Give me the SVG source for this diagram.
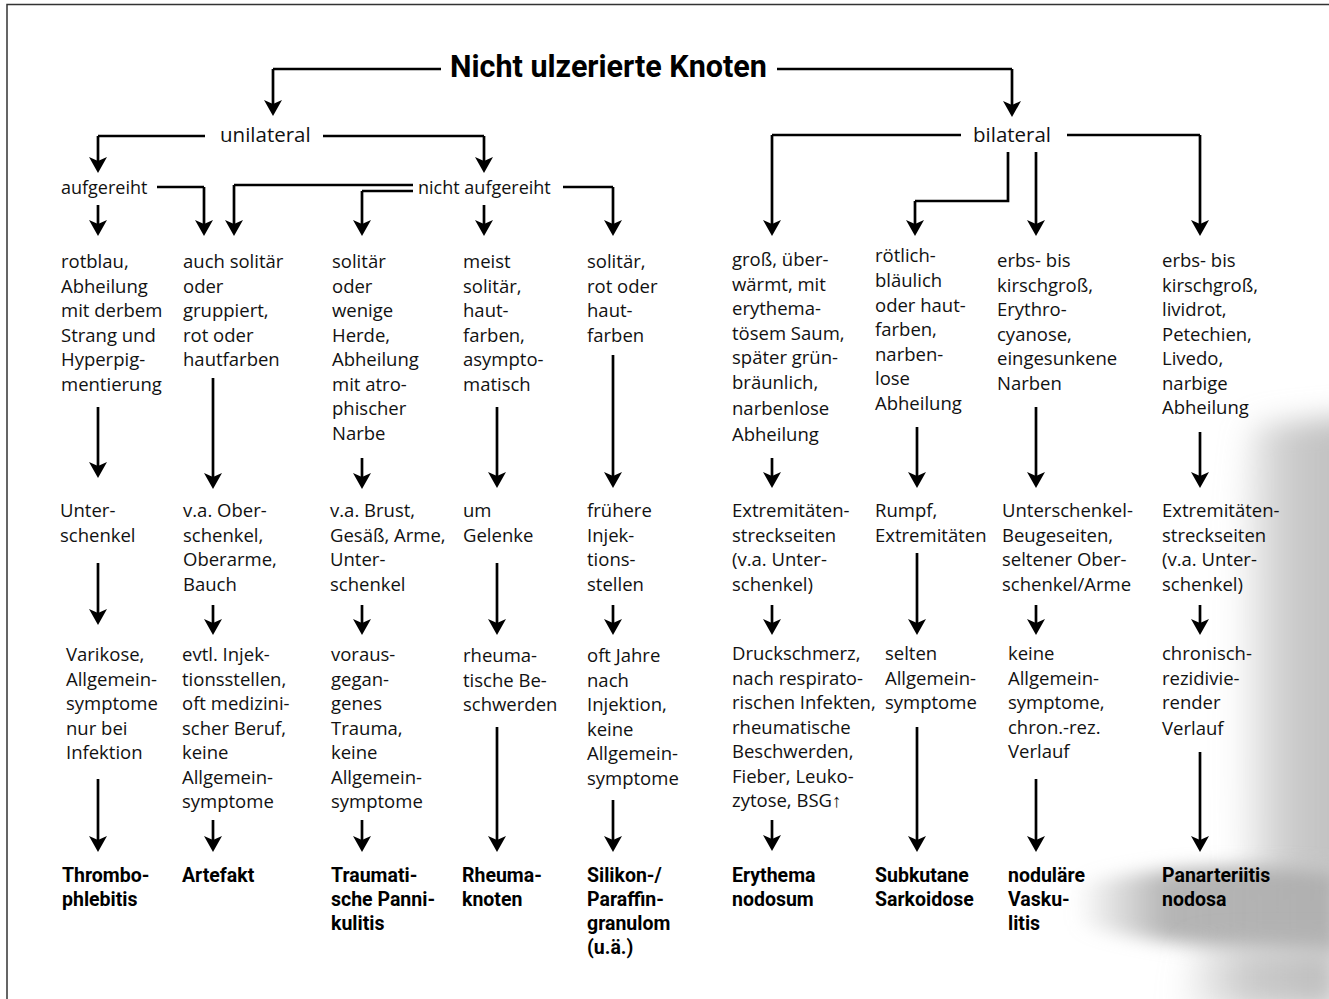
<svg xmlns="http://www.w3.org/2000/svg" width="1329" height="999" viewBox="0 0 1329 999">
<style>
.t{font-family:"Open Sans","Liberation Sans",sans-serif;font-size:18.5px;fill:#111}
.lv{font-family:"Open Sans","Liberation Sans",sans-serif;font-size:20.5px;fill:#111}
.sm{font-family:"Open Sans","Liberation Sans",sans-serif;font-size:18px;fill:#111}
.b{font-family:Roboto,"Liberation Sans",sans-serif;font-size:19.5px;font-weight:700;fill:#000}
.ti{font-family:Roboto,"Liberation Sans",sans-serif;font-size:30.5px;font-weight:700;fill:#000}
.c{fill:none;stroke:#000;stroke-width:2.7;marker-end:url(#ah)}
.c2{fill:none;stroke:#000;stroke-width:2.7}
</style>
<defs>
<marker id="ah" markerUnits="userSpaceOnUse" markerWidth="20" markerHeight="20" viewBox="0 -10 17 20" refX="8" refY="0" orient="auto">
<path d="M16,0 L0,-9 L4,0 L0,9 Z" fill="#000"/>
</marker>
<linearGradient id="gs" x1="0" y1="0" x2="1" y2="0">
<stop offset="0" stop-color="#bdbdbd" stop-opacity="0"/>
<stop offset="0.45" stop-color="#c2c2c2" stop-opacity="0.85"/>
<stop offset="1" stop-color="#bcbcbc"/>
</linearGradient>
<linearGradient id="gb" x1="0" y1="0" x2="1" y2="0">
<stop offset="0" stop-color="#aaa" stop-opacity="0"/>
<stop offset="0.35" stop-color="#adadad" stop-opacity="0.9"/>
<stop offset="1" stop-color="#b0b0b0"/>
</linearGradient>
<filter id="bl" x="-50%" y="-50%" width="200%" height="200%"><feGaussianBlur stdDeviation="14"/></filter>
<filter id="bl2" x="-50%" y="-50%" width="200%" height="200%"><feGaussianBlur stdDeviation="9"/></filter>
</defs>
<rect width="1329" height="999" fill="#fff"/>
<g id="shadow">
<path d="M1250,425 C1232,520 1225,700 1238,880 L1360,880 L1360,415 Z" fill="url(#gs)" filter="url(#bl)"/>
<path d="M1075,885 C1160,865 1260,862 1340,870 L1340,955 C1250,952 1160,945 1080,925 Z" fill="url(#gb)" filter="url(#bl2)"/>
<path d="M1190,945 L1340,945 L1340,1010 L1175,1010 Z" fill="url(#gs)" filter="url(#bl)"/>
</g>
<g id="border" stroke="#333" stroke-width="1.5" fill="none">
<path d="M7,999 V4.5 H1329"/>
</g>
<g id="connectors">
<path class="c2" d="M441,69 H273"/><path class="c" d="M273,69 V108"/>
<path class="c2" d="M777,69 H1012"/><path class="c" d="M1012,69 V109"/>
<path class="c2" d="M205,136 H98"/><path class="c" d="M98,136 V165"/>
<path class="c2" d="M323,136 H484"/><path class="c" d="M484,136 V165"/>
<path class="c" d="M98,205 V228"/>
<path class="c2" d="M157,187 H204"/><path class="c" d="M204,187 V228"/>
<path class="c2" d="M413,185 H234"/><path class="c" d="M234,185 V228"/>
<path class="c2" d="M413,191 H362"/><path class="c" d="M362,191 V228"/>
<path class="c" d="M484,205 V228"/>
<path class="c2" d="M563,187 H613"/><path class="c" d="M613,187 V228"/>
<path class="c2" d="M961,135 H772"/><path class="c" d="M772,135 V228"/>
<path class="c2" d="M1067,135 H1200"/><path class="c" d="M1200,135 V228"/>
<path class="c2" d="M1008,152 V201 H915"/><path class="c" d="M915,201 V228"/>
<path class="c" d="M1036,152 V228"/>
<path class="c" d="M98,407 V470"/>
<path class="c" d="M213,378 V481"/>
<path class="c" d="M362,458 V481"/>
<path class="c" d="M497,407 V480"/>
<path class="c" d="M613,355 V480"/>
<path class="c" d="M772,458 V480"/>
<path class="c" d="M917,427 V480"/>
<path class="c" d="M1036,407 V480"/>
<path class="c" d="M1200,432 V480"/>
<path class="c" d="M98,563 V617"/>
<path class="c" d="M213,605 V627"/>
<path class="c" d="M362,605 V627"/>
<path class="c" d="M497,563 V627"/>
<path class="c" d="M613,605 V627"/>
<path class="c" d="M772,605 V627"/>
<path class="c" d="M917,553 V627"/>
<path class="c" d="M1036,605 V627"/>
<path class="c" d="M1200,605 V627"/>
<path class="c" d="M98,779 V844"/>
<path class="c" d="M213,820 V844"/>
<path class="c" d="M362,820 V844"/>
<path class="c" d="M497,727 V844"/>
<path class="c" d="M613,800 V844"/>
<path class="c" d="M772,820 V843"/>
<path class="c" d="M917,727 V844"/>
<path class="c" d="M1036,779 V844"/>
<path class="c" d="M1200,752 V844"/>
</g>
<g id="title"><text class="ti" x="450" y="77">Nicht ulzerierte Knoten</text></g>
<g id="unilateral"><text class="lv" x="220" y="142">unilateral</text></g>
<g id="bilateral"><text class="lv" x="973" y="142">bilateral</text></g>
<g id="aufgereiht"><text class="sm" x="61" y="194">aufgereiht</text></g>
<g id="nicht-aufgereiht"><text class="sm" x="418" y="194">nicht aufgereiht</text></g>

<g id="c1r1"><text class="t" x="61" y="268"><tspan x="61">rotblau,</tspan><tspan x="61" dy="24.5">Abheilung</tspan><tspan x="61" dy="24.5">mit derbem</tspan><tspan x="61" dy="24.5">Strang und</tspan><tspan x="61" dy="24.5">Hyperpig-</tspan><tspan x="61" dy="24.5">mentierung</tspan></text></g>
<g id="c1r2"><text class="t" x="60" y="517"><tspan x="60">Unter-</tspan><tspan x="60" dy="24.5">schenkel</tspan></text></g>
<g id="c1r3"><text class="t" x="66" y="661"><tspan x="66">Varikose,</tspan><tspan x="66" dy="24.5">Allgemein-</tspan><tspan x="66" dy="24.5">symptome</tspan><tspan x="66" dy="24.5">nur bei</tspan><tspan x="66" dy="24.5">Infektion</tspan></text></g>
<g id="c1r4"><text class="b" x="62" y="882"><tspan x="62">Thrombo-</tspan><tspan x="62" dy="24">phlebitis</tspan></text></g>

<g id="c2r1"><text class="t" x="183" y="268"><tspan x="183">auch solitär</tspan><tspan x="183" dy="24.5">oder</tspan><tspan x="183" dy="24.5">gruppiert,</tspan><tspan x="183" dy="24.5">rot oder</tspan><tspan x="183" dy="24.5">hautfarben</tspan></text></g>
<g id="c2r2"><text class="t" x="183" y="517"><tspan x="183">v.a. Ober-</tspan><tspan x="183" dy="24.5">schenkel,</tspan><tspan x="183" dy="24.5">Oberarme,</tspan><tspan x="183" dy="24.5">Bauch</tspan></text></g>
<g id="c2r3"><text class="t" x="182" y="661"><tspan x="182">evtl. Injek-</tspan><tspan x="182" dy="24.5">tionsstellen,</tspan><tspan x="182" dy="24.5">oft medizini-</tspan><tspan x="182" dy="24.5">scher Beruf,</tspan><tspan x="182" dy="24.5">keine</tspan><tspan x="182" dy="24.5">Allgemein-</tspan><tspan x="182" dy="24.5">symptome</tspan></text></g>
<g id="c2r4"><text class="b" x="182" y="882">Artefakt</text></g>

<g id="c3r1"><text class="t" x="332" y="268"><tspan x="332">solitär</tspan><tspan x="332" dy="24.5">oder</tspan><tspan x="332" dy="24.5">wenige</tspan><tspan x="332" dy="24.5">Herde,</tspan><tspan x="332" dy="24.5">Abheilung</tspan><tspan x="332" dy="24.5">mit atro-</tspan><tspan x="332" dy="24.5">phischer</tspan><tspan x="332" dy="24.5">Narbe</tspan></text></g>
<g id="c3r2"><text class="t" x="330" y="517"><tspan x="330">v.a. Brust,</tspan><tspan x="330" dy="24.5">Gesäß, Arme,</tspan><tspan x="330" dy="24.5">Unter-</tspan><tspan x="330" dy="24.5">schenkel</tspan></text></g>
<g id="c3r3"><text class="t" x="331" y="661"><tspan x="331">voraus-</tspan><tspan x="331" dy="24.5">gegan-</tspan><tspan x="331" dy="24.5">genes</tspan><tspan x="331" dy="24.5">Trauma,</tspan><tspan x="331" dy="24.5">keine</tspan><tspan x="331" dy="24.5">Allgemein-</tspan><tspan x="331" dy="24.5">symptome</tspan></text></g>
<g id="c3r4"><text class="b" x="331" y="882"><tspan x="331">Traumati-</tspan><tspan x="331" dy="24">sche Panni-</tspan><tspan x="331" dy="24">kulitis</tspan></text></g>

<g id="c4r1"><text class="t" x="463" y="268"><tspan x="463">meist</tspan><tspan x="463" dy="24.5">solitär,</tspan><tspan x="463" dy="24.5">haut-</tspan><tspan x="463" dy="24.5">farben,</tspan><tspan x="463" dy="24.5">asympto-</tspan><tspan x="463" dy="24.5">matisch</tspan></text></g>
<g id="c4r2"><text class="t" x="463" y="517"><tspan x="463">um</tspan><tspan x="463" dy="24.5">Gelenke</tspan></text></g>
<g id="c4r3"><text class="t" x="463" y="662"><tspan x="463">rheuma-</tspan><tspan x="463" dy="24.5">tische Be-</tspan><tspan x="463" dy="24.5">schwerden</tspan></text></g>
<g id="c4r4"><text class="b" x="462" y="882"><tspan x="462">Rheuma-</tspan><tspan x="462" dy="24">knoten</tspan></text></g>

<g id="c5r1"><text class="t" x="587" y="268"><tspan x="587">solitär,</tspan><tspan x="587" dy="24.5">rot oder</tspan><tspan x="587" dy="24.5">haut-</tspan><tspan x="587" dy="24.5">farben</tspan></text></g>
<g id="c5r2"><text class="t" x="587" y="517"><tspan x="587">frühere</tspan><tspan x="587" dy="24.5">Injek-</tspan><tspan x="587" dy="24.5">tions-</tspan><tspan x="587" dy="24.5">stellen</tspan></text></g>
<g id="c5r3"><text class="t" x="587" y="662"><tspan x="587">oft Jahre</tspan><tspan x="587" dy="24.5">nach</tspan><tspan x="587" dy="24.5">Injektion,</tspan><tspan x="587" dy="24.5">keine</tspan><tspan x="587" dy="24.5">Allgemein-</tspan><tspan x="587" dy="24.5">symptome</tspan></text></g>
<g id="c5r4"><text class="b" x="587" y="882"><tspan x="587">Silikon-/</tspan><tspan x="587" dy="24">Paraffin-</tspan><tspan x="587" dy="24">granulom</tspan><tspan x="587" dy="24">(u.ä.)</tspan></text></g>

<g id="c6r1"><text class="t" x="732" y="266"><tspan x="732">groß, über-</tspan><tspan x="732" dy="24.5">wärmt, mit</tspan><tspan x="732" dy="24.5">erythema-</tspan><tspan x="732" dy="24.5">tösem Saum,</tspan><tspan x="732" dy="24.5">später grün-</tspan><tspan x="732" dy="24.5">bräunlich,</tspan><tspan x="732" dy="26.5">narbenlose</tspan><tspan x="732" dy="26">Abheilung</tspan></text></g>
<g id="c6r2"><text class="t" x="732" y="517"><tspan x="732">Extremitäten-</tspan><tspan x="732" dy="24.5">streckseiten</tspan><tspan x="732" dy="24.5">(v.a. Unter-</tspan><tspan x="732" dy="24.5">schenkel)</tspan></text></g>
<g id="c6r3"><text class="t" x="732" y="660"><tspan x="732">Druckschmerz,</tspan><tspan x="732" dy="24.5">nach respirato-</tspan><tspan x="732" dy="24.5">rischen Infekten,</tspan><tspan x="732" dy="24.5">rheumatische</tspan><tspan x="732" dy="24.5">Beschwerden,</tspan><tspan x="732" dy="24.5">Fieber, Leuko-</tspan><tspan x="732" dy="24.5">zytose, BSG↑</tspan></text></g>
<g id="c6r4"><text class="b" x="732" y="882"><tspan x="732">Erythema</tspan><tspan x="732" dy="24">nodosum</tspan></text></g>

<g id="c7r1"><text class="t" x="875" y="262"><tspan x="875">rötlich-</tspan><tspan x="875" dy="25">bläulich</tspan><tspan x="875" dy="24.5">oder haut-</tspan><tspan x="875" dy="24.5">farben,</tspan><tspan x="875" dy="24.5">narben-</tspan><tspan x="875" dy="24.5">lose</tspan><tspan x="875" dy="24.5">Abheilung</tspan></text></g>
<g id="c7r2"><text class="t" x="875" y="517"><tspan x="875">Rumpf,</tspan><tspan x="875" dy="24.5">Extremitäten</tspan></text></g>
<g id="c7r3"><text class="t" x="885" y="660"><tspan x="885">selten</tspan><tspan x="885" dy="24.5">Allgemein-</tspan><tspan x="885" dy="24.5">symptome</tspan></text></g>
<g id="c7r4"><text class="b" x="875" y="882"><tspan x="875">Subkutane</tspan><tspan x="875" dy="24">Sarkoidose</tspan></text></g>

<g id="c8r1"><text class="t" x="997" y="267"><tspan x="997">erbs- bis</tspan><tspan x="997" dy="24.5">kirschgroß,</tspan><tspan x="997" dy="24.5">Erythro-</tspan><tspan x="997" dy="24.5">cyanose,</tspan><tspan x="997" dy="24.5">eingesunkene</tspan><tspan x="997" dy="24.5">Narben</tspan></text></g>
<g id="c8r2"><text class="t" x="1002" y="517"><tspan x="1002">Unterschenkel-</tspan><tspan x="1002" dy="24.5">Beugeseiten,</tspan><tspan x="1002" dy="24.5">seltener Ober-</tspan><tspan x="1002" dy="24.5">schenkel/Arme</tspan></text></g>
<g id="c8r3"><text class="t" x="1008" y="660"><tspan x="1008">keine</tspan><tspan x="1008" dy="24.5">Allgemein-</tspan><tspan x="1008" dy="24.5">symptome,</tspan><tspan x="1008" dy="24.5">chron.-rez.</tspan><tspan x="1008" dy="24.5">Verlauf</tspan></text></g>
<g id="c8r4"><text class="b" x="1008" y="882"><tspan x="1008">noduläre</tspan><tspan x="1008" dy="24">Vasku-</tspan><tspan x="1008" dy="24">litis</tspan></text></g>

<g id="c9r1"><text class="t" x="1162" y="267"><tspan x="1162">erbs- bis</tspan><tspan x="1162" dy="24.5">kirschgroß,</tspan><tspan x="1162" dy="24.5">lividrot,</tspan><tspan x="1162" dy="24.5">Petechien,</tspan><tspan x="1162" dy="24.5">Livedo,</tspan><tspan x="1162" dy="24.5">narbige</tspan><tspan x="1162" dy="24.5">Abheilung</tspan></text></g>
<g id="c9r2"><text class="t" x="1162" y="517"><tspan x="1162">Extremitäten-</tspan><tspan x="1162" dy="24.5">streckseiten</tspan><tspan x="1162" dy="24.5">(v.a. Unter-</tspan><tspan x="1162" dy="24.5">schenkel)</tspan></text></g>
<g id="c9r3"><text class="t" x="1162" y="660"><tspan x="1162">chronisch-</tspan><tspan x="1162" dy="24.5">rezidivie-</tspan><tspan x="1162" dy="24.5">render</tspan><tspan x="1162" dy="26">Verlauf</tspan></text></g>
<g id="c9r4"><text class="b" x="1162" y="882"><tspan x="1162">Panarteriitis</tspan><tspan x="1162" dy="24">nodosa</tspan></text></g>
</svg>
